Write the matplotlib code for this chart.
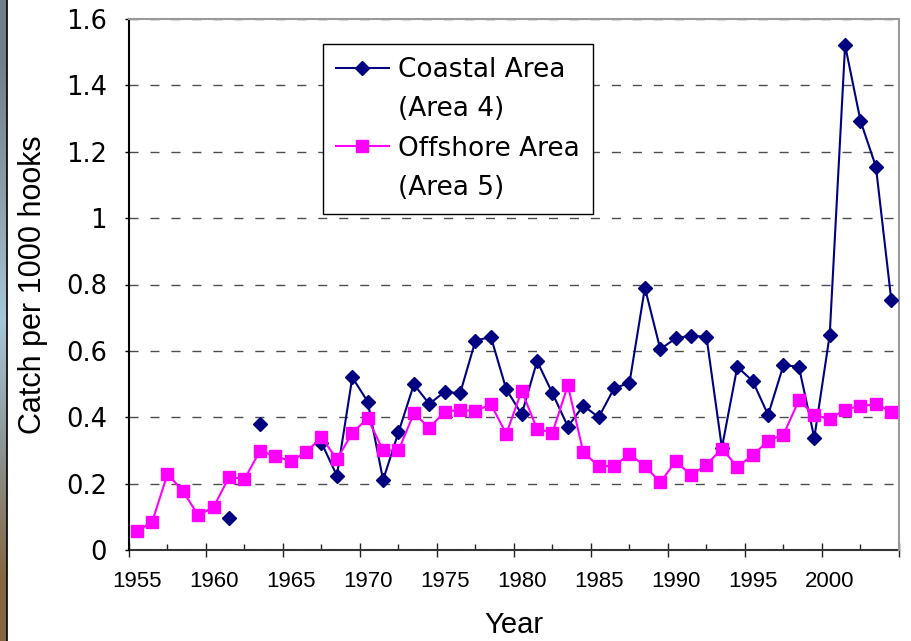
import numpy as np
import matplotlib
matplotlib.use('Agg')
import matplotlib.pyplot as plt
from matplotlib.lines import Line2D

plt.rcParams['lines.scale_dashes'] = False

# data (catch per 1000 hooks)
years = list(range(1955, 2005))
coastal = [None, None, None, None, None, None, 0.097, None, 0.380, None,
           None, None, 0.323, 0.224, 0.520, 0.447, 0.211, 0.355, 0.499, 0.440,
           0.477, 0.472, 0.631, 0.642, 0.484, 0.409, 0.569, 0.472, 0.372, 0.435,
           0.400, 0.487, 0.504, 0.790, 0.605, 0.638, 0.646, 0.642, 0.308, 0.552,
           0.509, 0.407, 0.557, 0.552, 0.338, 0.648, 1.521, 1.293, 1.155, 0.753]
offshore = [0.057, 0.084, 0.229, 0.178, 0.104, 0.130, 0.220, 0.214, 0.298, 0.283,
            0.268, 0.295, 0.340, 0.273, 0.353, 0.397, 0.300, 0.300, 0.412, 0.368,
            0.417, 0.422, 0.419, 0.439, 0.350, 0.480, 0.364, 0.354, 0.496, 0.294,
            0.253, 0.253, 0.289, 0.253, 0.204, 0.267, 0.226, 0.257, 0.305, 0.251,
            0.285, 0.329, 0.348, 0.451, 0.407, 0.395, 0.423, 0.434, 0.439, 0.417]
label_years = list(range(1955, 2001, 5))
y_ticks = [0, 0.2, 0.4, 0.6, 0.8, 1, 1.2, 1.4, 1.6]
y_labels = ['0', '0.2', '0.4', '0.6', '0.8', '1', '1.2', '1.4', '1.6']

coastal = np.array([np.nan if v is None else v for v in coastal])
offshore = np.array(offshore)

navy = '#000080'
pink = '#ff00ff'

fig = plt.figure(figsize=(9.12, 6.41), dpi=100)
ax = fig.add_axes([129 / 912, 91 / 641, 770 / 912, 531 / 641])

# slide background strip on the far left
strip = fig.add_axes([0, 0, 7 / 912, 1])
grad = np.array([[0.45, 0.50, 0.53], [0.55, 0.62, 0.66], [0.66, 0.78, 0.85],
                 [0.55, 0.58, 0.58], [0.52, 0.40, 0.26]])
strip.imshow(grad[:, None, :], aspect='auto', interpolation='bilinear')
strip.axis('off')
fig.add_artist(Line2D([7.5 / 912, 7.5 / 912], [0, 1], color='black', lw=1.2))

# series
ax.plot(years, coastal, color=navy, lw=1.5, marker='D', ms=7.5,
        mfc=navy, mec=navy, zorder=3)
ax.plot(years, offshore, color=pink, lw=1.5, marker='s', ms=9,
        mfc=pink, mec=pink, zorder=4)

ax.set_xlim(1954.5, 2004.5)
ax.set_ylim(0, 1.6)

# y axis
ax.set_yticks(y_ticks)
ax.set_yticklabels(y_labels, fontsize=18.5, family='DejaVu Sans')
ax.tick_params(axis='y', direction='out', length=3, width=1, pad=13)
ax.yaxis.grid(True, color='#4d4d4d', lw=1, linestyle=(0, (6.5, 8.6)))

# x axis: labels on category centres, marks on category edges
ax.set_xticks(label_years)
ax.set_xticklabels([str(y) for y in label_years], fontsize=16, family='Liberation Sans')
ax.tick_params(axis='x', length=0, pad=15)
sec = ax.secondary_xaxis('bottom')
sec.set_xticks(np.arange(1954.5, 2005, 5))
sec.set_xticks(np.arange(1957, 2005, 5), minor=True)
sec.set_xticklabels([])
sec.tick_params(which='major', direction='inout', length=10, width=1, color='#222222')
sec.tick_params(which='minor', direction='in', length=4.5, width=1, color='#222222')
sec.spines['bottom'].set_color('#333333')
sec.spines['bottom'].set_linewidth(1.5)

ax.spines['left'].set_color('black')
ax.spines['left'].set_linewidth(1.5)
ax.spines['bottom'].set_visible(False)
for s in ['top', 'right']:
    ax.spines[s].set_color('#999999')
    ax.spines[s].set_linewidth(1.5)

ax.set_xlabel('Year', fontsize=21, family='Liberation Sans', va='center')
ax.xaxis.set_label_coords(0.5, -0.141)
ax.set_ylabel('Catch per 1000 hooks', fontsize=22, family='Liberation Sans', va='center')
ax.yaxis.set_label_coords(-0.125, 0.5)

# legend: second text line of each entry gets an empty handle
blank = Line2D([], [], color='none')
h1 = Line2D([], [], color=navy, lw=1.5, marker='D', ms=7, mfc=navy, mec=navy)
h2 = Line2D([], [], color=pink, lw=1.5, marker='s', ms=8.5, mfc=pink, mec=pink)
leg = ax.legend([h1, blank, h2, blank],
                ['Coastal Area', '(Area 4)', 'Offshore Area', '(Area 5)'],
                loc='upper left', bbox_to_anchor=(0.2516, 0.9529), borderaxespad=0,
                prop={'family': 'DejaVu Sans', 'size': 19}, frameon=True,
                fancybox=False, edgecolor='black', framealpha=1,
                handlelength=2.0, handletextpad=0.35, borderpad=0.5,
                labelspacing=0.5)
leg.get_frame().set_linewidth(1)

fig.savefig('out.png', dpi=100)
